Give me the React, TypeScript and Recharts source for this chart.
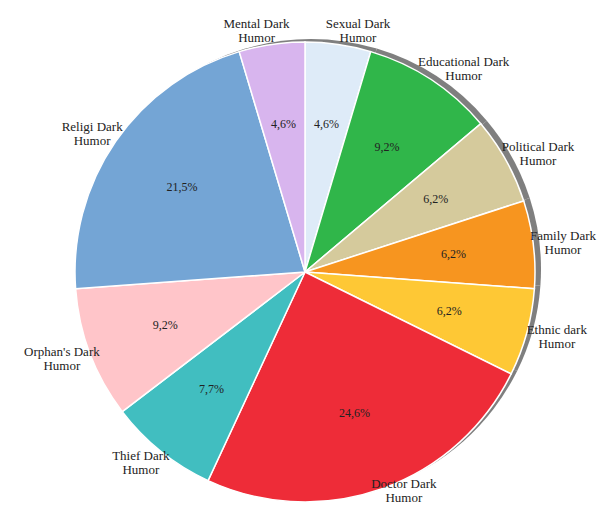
import React from "react";
import { PieChart, Pie, Cell } from "recharts";

const categories = [
  "Sexual Dark\nHumor",
  "Educational Dark\nHumor",
  "Political Dark\nHumor",
  "Family Dark\nHumor",
  "Ethnic dark\nHumor",
  "Doctor Dark\nHumor",
  "Thief Dark\nHumor",
  "Orphan's Dark\nHumor",
  "Religi Dark\nHumor",
  "Mental Dark\nHumor",
];

// number of jokes per category (out of 65)
const counts = [3, 6, 4, 4, 4, 16, 5, 6, 14, 3];

const COLORS = [
  "#deebf8", // Sexual
  "#30b64a", // Educational
  "#d5ca9c", // Political
  "#f7951f", // Family
  "#fec835", // Ethnic
  "#ee2c38", // Doctor
  "#41bec0", // Thief
  "#ffc5c9", // Orphan
  "#74a5d5", // Religi
  "#d8b5ee", // Mental
];

const data = categories.map((name, i) => ({ name, value: counts[i] }));

const FONT = "'Liberation Serif', 'Times New Roman', serif";
const RAD = Math.PI / 180;
const W = 598;
const H = 506;

let ctx: CanvasRenderingContext2D | null = null;
const measure = (s: string, size: number) => {
  if (!ctx) ctx = document.createElement("canvas").getContext("2d");
  if (!ctx) return s.length * size * 0.45;
  ctx.font = `${size}px ${FONT}`;
  return ctx.measureText(s).width;
};

// eslint-disable-next-line @typescript-eslint/no-explicit-any
const renderLabel = ({ cx, cy, midAngle, outerRadius, percent, name }: any) => {
  const cos = Math.cos(-midAngle * RAD);
  const sin = Math.sin(-midAngle * RAD);

  // percentage inside the slice
  const pr = outerRadius * 0.65;
  const px = cx + pr * cos;
  const py = cy + pr * sin;
  const pct = `${((percent || 0) * 100).toFixed(1).replace(".", ",")}%`;

  // category name outside
  const lr = outerRadius * 1.06;
  const lines = String(name).split("\n");
  const half = Math.max(...lines.map((l) => measure(l, 13))) / 2;
  const k = cos >= 0 ? 0.55 : 0.4;
  const lh = 14;
  let lx = cx + lr * cos + Math.sign(cos) * k * half;
  lx = Math.min(Math.max(lx, half + 2), W - half - 2);
  let ly = cy + lr * sin;
  ly = Math.min(Math.max(ly, lh / 2 + 8), H - lh / 2 - 9);

  return (
    <g>
      <text
        x={px}
        y={py}
        textAnchor="middle"
        dominantBaseline="central"
        fill="#222"
        style={{ fontFamily: FONT, fontSize: "12px" }}
      >
        {pct}
      </text>
      {lines.map((l, i) => (
        <text
          key={i}
          x={lx}
          y={ly + (i - (lines.length - 1) / 2) * lh}
          textAnchor="middle"
          dominantBaseline="central"
          fill="#222"
          style={{ fontFamily: FONT, fontSize: "13px" }}
        >
          {l}
        </text>
      ))}
    </g>
  );
};

export default function App() {
  return (
    <div style={{ position: "absolute", left: 0, top: 0, width: W, height: H, background: "#fff" }}>
      <PieChart width={W} height={H}>
        {/* drop shadow */}
        <Pie
          data={data}
          dataKey="value"
          cx={306}
          cy={264}
          outerRadius={230}
          startAngle={90}
          endAngle={-270}
          isAnimationActive={false}
          stroke="none"
        >
          {data.map((_, i) => (
            <Cell key={`s-${i}`} fill="#7f7f7f" />
          ))}
        </Pie>
        <Pie
          data={data}
          dataKey="value"
          cx={300}
          cy={267}
          outerRadius={230}
          startAngle={90}
          endAngle={-270}
          labelLine={false}
          label={renderLabel}
          isAnimationActive={false}
        >
          {data.map((_, i) => (
            <Cell key={`c-${i}`} fill={COLORS[i]} stroke="#ffffff" strokeWidth={1.5} />
          ))}
        </Pie>
      </PieChart>
    </div>
  );
}
